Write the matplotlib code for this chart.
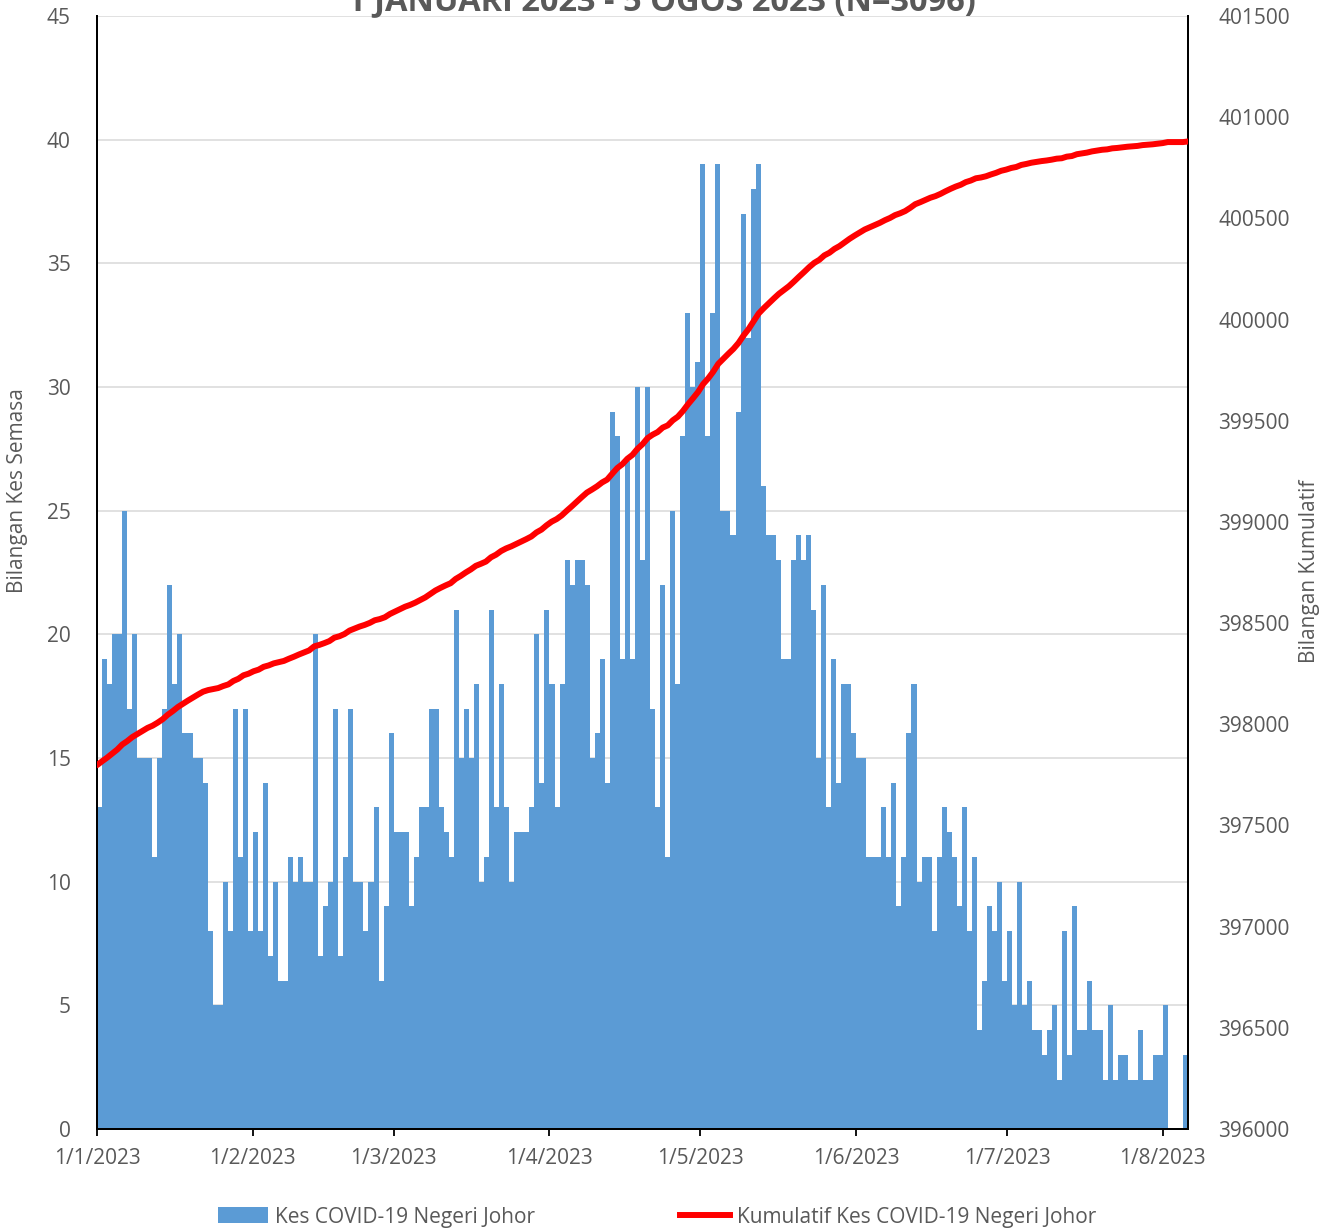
import numpy as np
import pandas as pd
import matplotlib
matplotlib.use("Agg")
import matplotlib.pyplot as plt
import matplotlib.dates as mdates
from matplotlib.patches import Patch
from matplotlib.lines import Line2D

# ---------------- data ----------------
start_date = "2023-01-01"
daily_cases = [
    13, 19, 18, 20, 20, 25, 17, 20, 15, 15, 15, 11, 15, 17, 22, 18, 20, 16, 16, 15, 15, 14, 8,
    5, 5, 10, 8, 17, 11, 17, 8, 12, 8, 14, 7, 10, 6, 6, 11, 10, 11, 10, 10, 20, 7,
    9, 10, 17, 7, 11, 17, 10, 10, 8, 10, 13, 6, 9, 16, 12, 12, 12, 9, 11, 13, 13, 17,
    17, 13, 12, 11, 21, 15, 17, 15, 18, 10, 11, 21, 13, 18, 13, 10, 12, 12, 12, 13, 20, 14, 21,
    18, 13, 18, 23, 22, 23, 23, 22, 15, 16, 19, 14,
    29, 28, 19, 27, 19, 30, 23, 30, 17, 13,
    22, 11, 25, 18, 28, 33, 30, 31, 39, 28, 33, 39, 25, 25, 24, 29, 37, 32, 38, 39,
    26, 24, 24, 23, 19, 19, 23, 24, 23, 24, 21, 15, 22, 13, 19, 14, 18, 18, 16, 15, 15,
    11, 11, 11, 13, 11, 14, 9, 11, 16, 18, 10, 11, 11, 8, 11, 13, 12, 11, 9, 13, 8, 11, 4,
    6, 9, 8, 10, 6, 8, 5, 10, 5, 6, 4, 4, 3, 4, 5, 2, 8, 3, 9, 4, 4, 6,
    4, 4, 2, 5, 2, 3, 3, 2, 2, 4, 2, 2, 3, 3, 5, 0, 0, 0, 3,
]
cumulative_base = 397785  # cumulative cases before 1 Jan 2023

month_ticks = ["2023-01-01", "2023-02-01", "2023-03-01", "2023-04-01",
               "2023-05-01", "2023-06-01", "2023-07-01", "2023-08-01"]
month_labels = ["1/1/2023", "1/2/2023", "1/3/2023", "1/4/2023",
                "1/5/2023", "1/6/2023", "1/7/2023", "1/8/2023"]
left_ticks = [0, 5, 10, 15, 20, 25, 30, 35, 40, 45]
right_ticks = [396000, 396500, 397000, 397500, 398000, 398500, 399000,
               399500, 400000, 400500, 401000, 401500]

title = "1 JANUARI 2023 - 5 OGOS 2023 (N=3096)"
ylabel_left = "Bilangan Kes Semasa"
ylabel_right = "Bilangan Kumulatif"
legend_bar = "Kes COVID-19 Negeri Johor"
legend_line = "Kumulatif Kes COVID-19 Negeri Johor"

# ---------------- style ----------------
FONT = "Open Sans"
TXT = "#595959"
BAR_C = "#5B9BD5"
LINE_C = "#FF0000"
FS = 15

plt.rcParams["font.family"] = [FONT, "DejaVu Sans"]

W, H = 1335, 1231
fig = plt.figure(figsize=(W / 100, H / 100), dpi=100)
L, R, T, B = 97, 1188, 16, 1129
ax = fig.add_axes([L / W, 1 - B / H, (R - L) / W, (B - T) / H])

dates = pd.date_range(start_date, periods=len(daily_cases), freq="D")
xnum = mdates.date2num(dates)
cum = cumulative_base + np.cumsum(daily_cases)

ax.bar(xnum, daily_cases, width=1.0, align="edge", color=BAR_C, linewidth=0, zorder=2)
ax.set_xlim(xnum[0], xnum[-1] + 1)
ax.set_ylim(0, 45)
ax.set_yticks(left_ticks)
ax.grid(axis="y", color="#d9d9d9", linewidth=1.1, zorder=0)
ax.set_axisbelow(True)

tick_pos = mdates.date2num(pd.to_datetime(month_ticks))
ax.set_xticks(tick_pos)
ax.set_xticklabels(month_labels)
ax.tick_params(axis="x", direction="out", length=5, width=1.3, color="black",
               pad=9, labelsize=FS, labelcolor=TXT)
ax.tick_params(axis="y", length=0, pad=19, labelsize=FS, labelcolor=TXT)

ax.spines["top"].set_visible(False)
for s in ["left", "bottom", "right"]:
    ax.spines[s].set_color("black")
    ax.spines[s].set_linewidth(1.4)

ax2 = ax.twinx()
# line points spread over the full category width, as in the original chart
line_x = np.linspace(xnum[0], xnum[-1] + 1, len(cum))
ax2.plot(line_x, cum, color=LINE_C, linewidth=4.3, solid_capstyle="round", zorder=3)
ax2.set_ylim(396000, 401500)
ax2.set_yticks(right_ticks)
ax2.set_yticklabels([str(v) for v in right_ticks])
ax2.tick_params(axis="y", length=0, pad=22, labelsize=FS, labelcolor=TXT)
ax2.spines["top"].set_visible(False)
for s in ["left", "bottom", "right"]:
    ax2.spines[s].set_color("black")
    ax2.spines[s].set_linewidth(1.4)
ax2.set_xlim(ax.get_xlim())

# axis titles
fig.text(18 / W, 1 - 491 / H, ylabel_left, rotation=90, ha="center", va="center",
         fontsize=FS, color=TXT)
fig.text(1310 / W, 1 - 571 / H, ylabel_right, rotation=90, ha="center", va="center",
         fontsize=FS, color=TXT)

# title (partially cut off at top, like the original)
fig.text(661 / W, 1 - 10 / H, title, ha="center", va="baseline", fontsize=23.5,
         fontweight="bold", color=TXT)

# legend
handles = [Patch(facecolor=BAR_C, edgecolor="none"),
           Line2D([0], [0], color=LINE_C, linewidth=4.3)]
fig.legend(handles, [legend_bar, legend_line], loc="center left",
           bbox_to_anchor=(218 / W, 1 - 1217 / H), ncol=2, frameon=False,
           fontsize=FS, labelcolor=TXT, handlelength=2.4, handleheight=0.8,
           handletextpad=0.35, columnspacing=6.95, borderpad=0, borderaxespad=0)

fig.savefig("out.png", dpi=100)
